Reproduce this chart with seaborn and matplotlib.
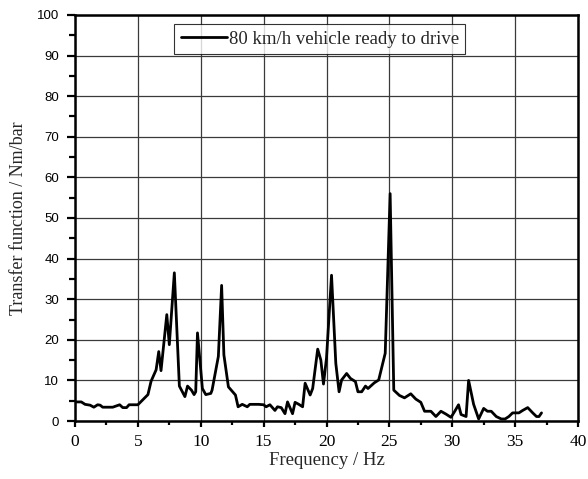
import matplotlib
matplotlib.use("Agg")
import matplotlib.pyplot as plt
import seaborn as sns
import pandas as pd
from matplotlib.ticker import MultipleLocator

freq = [0.0, 0.5, 0.8, 1.2, 1.5, 1.8, 2.0, 2.2, 3.0, 3.55, 3.8, 4.1, 4.3, 5.0,
        5.8, 6.05, 6.45, 6.66, 6.84, 7.3, 7.5, 7.9, 8.3, 8.74, 8.95, 9.26, 9.47,
        9.6, 9.74, 10.13, 10.4, 10.8, 10.9, 11.4, 11.66, 11.84, 12.2, 12.76,
        12.97, 13.3, 13.7, 13.9, 14.6, 15.0, 15.2, 15.5, 15.9, 16.1, 16.4, 16.7,
        16.9, 17.3, 17.5, 17.8, 18.1, 18.3, 18.7, 18.9, 19.3, 19.55, 19.76, 20.0,
        20.4, 20.74, 21.0, 21.2, 21.6, 21.9, 22.3, 22.5, 22.8, 23.1, 23.3, 23.8,
        24.15, 24.67, 25.06, 25.35, 25.8, 26.2, 26.7, 27.1, 27.5, 27.8, 28.3,
        28.7, 29.1, 29.5, 29.9, 30.2, 30.5, 30.7, 31.1, 31.3, 31.7, 32.1, 32.5,
        32.8, 33.1, 33.5, 33.9, 34.2, 34.5, 34.8, 35.3, 35.6, 36.0, 36.4, 36.7,
        36.9, 37.1]
transfer = [4.7, 4.7, 4.1, 3.9, 3.4, 4.0, 3.9, 3.4, 3.4, 4.0, 3.3, 3.3, 4.0, 4.0,
            6.5, 9.8, 12.6, 17.1, 12.4, 26.2, 18.8, 36.5, 8.6, 6.0, 8.6, 7.6, 6.5,
            7.2, 21.7, 8.0, 6.5, 6.8, 7.6, 15.9, 33.4, 16.3, 8.4, 6.4,
            3.5, 4.1, 3.5, 4.1, 4.1, 4.0, 3.5, 4.0, 2.6, 3.5, 3.3, 1.8,
            4.7, 1.8, 4.6, 4.1, 3.5, 9.3, 6.4, 8.0, 17.7, 15.0, 9.1, 15.5,
            35.9, 14.2, 7.2, 10.1, 11.7, 10.5, 9.7, 7.2, 7.2, 8.6, 8.0, 9.4,
            10.1, 16.7, 56.0, 7.6, 6.3, 5.7, 6.7, 5.4, 4.6, 2.4, 2.4,
            1.1, 2.4, 1.7, 0.9, 2.4, 4.0, 1.6, 1.1, 10.0, 4.1, 0.5, 3.1,
            2.4, 2.4, 1.1, 0.5, 0.5, 1.1, 2.0, 2.0, 2.6, 3.3, 2.0, 1.1,
            1.1, 2.0]
series_label = "80 km/h vehicle ready to drive"
x_label = "Frequency / Hz"
y_label = "Transfer function / Nm/bar"

df = pd.DataFrame({"freq": freq, "val": transfer})

sns.set_style("white")
plt.rcParams["font.family"] = ["Liberation Sans", "DejaVu Sans"]
serif = ["Liberation Serif", "DejaVu Serif"]

fig = plt.figure(figsize=(5.88, 4.79), dpi=100)
ax = fig.add_axes([75/588, 1 - 421/479, (578-75)/588, (421-15)/479])

sns.lineplot(data=df, x="freq", y="val", ax=ax, color="black", lw=2.0,
             label=series_label, sort=False)

ax.set_xlim(0, 40)
ax.set_ylim(0, 100)
ax.xaxis.set_major_locator(MultipleLocator(5))
ax.xaxis.set_minor_locator(MultipleLocator(2.5))
ax.yaxis.set_major_locator(MultipleLocator(10))
ax.yaxis.set_minor_locator(MultipleLocator(5))
ax.grid(True, which="major", color="#3a3a3a", lw=0.9)
ax.set_axisbelow(True)
ax.tick_params(which="both", direction="out", width=1.6,
               bottom=True, left=True, top=False, right=False, colors="black")
ax.tick_params(axis="x", which="major", length=4.5, labelsize=12.5, pad=4.5)
ax.tick_params(axis="x", which="minor", length=3.2)
ax.tick_params(axis="y", which="major", length=6, labelsize=9.5, pad=5.5)
ax.tick_params(axis="y", which="minor", length=4)
for lbl in ax.get_xticklabels():
    lbl.set_fontfamily(serif)
for s in ax.spines.values():
    s.set_visible(True)
    s.set_linewidth(1.8)
    s.set_color("black")

ax.set_xlabel(x_label, fontsize=13.5, family=serif, labelpad=2)
ax.set_ylabel(y_label, fontsize=13, family=serif, labelpad=7)

leg = ax.legend(loc="upper center", bbox_to_anchor=(0.487, 0.978),
                prop={"family": serif, "size": 13.5}, frameon=True,
                fancybox=False, edgecolor="black", handlelength=2.45,
                borderpad=0.35, handletextpad=0.1, borderaxespad=0)
leg.get_frame().set_linewidth(0.8)

fig.savefig("out.png", dpi=100, facecolor="white")
